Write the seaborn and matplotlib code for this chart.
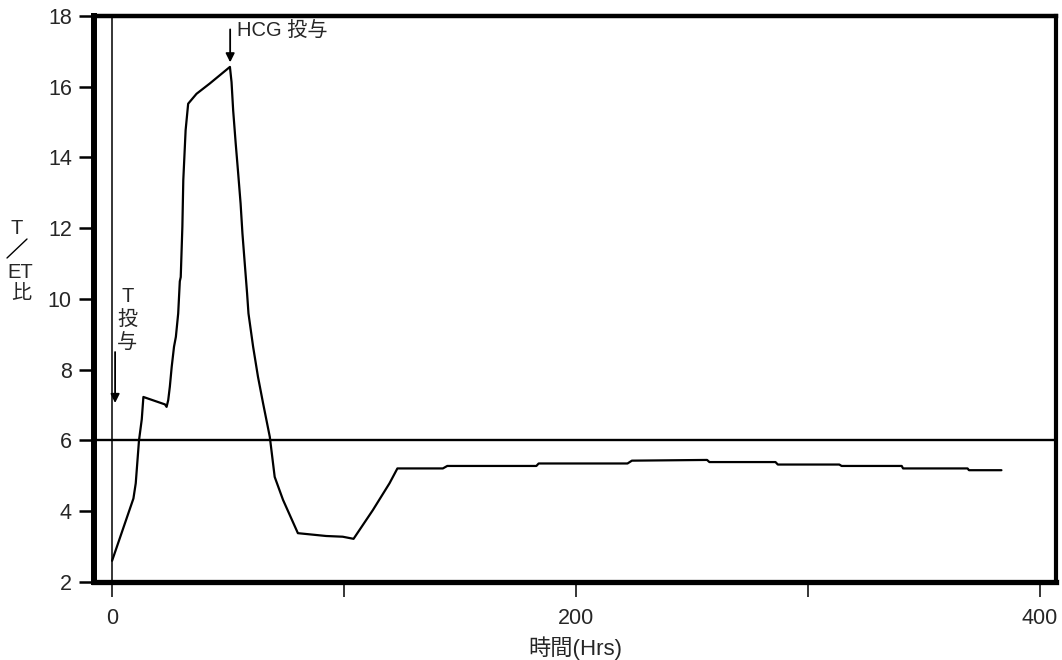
import matplotlib
matplotlib.use("Agg")
import matplotlib.pyplot as plt
from matplotlib.lines import Line2D
import seaborn as sns

# Time course of the T/ET ratio (hours after T administration)
hours = [0, 9.2, 10.2, 11.6, 12.8, 13.5, 22.8, 23.5, 24.2, 24.9, 25.7, 26.7,
         27.5, 28.5, 29.2, 29.6, 30.3, 30.7, 31.7, 32.8, 36.4, 42.1, 50.8,
         51.5, 52.2, 53.3, 54.3, 55.4, 56.2, 57.2, 58.2, 58.8, 60.8, 62.9,
         65.1, 68.0, 70.1, 73.7, 80.1, 92.3, 99.4, 104.1, 112.4, 119.6,
         123.0, 142.6, 144.5, 182.9, 183.9, 222.2, 224.1, 256.5, 257.5,
         286.0, 287.0, 313.5, 314.5, 340.4, 341.0, 368.8, 369.4, 383.4]
ratio = [2.6, 4.36, 4.79, 6.0, 6.6, 7.23, 7.02, 6.95, 7.14, 7.52, 8.08, 8.65,
         8.93, 9.59, 10.5, 10.62, 12.04, 13.36, 14.77, 15.52, 15.8, 16.09,
         16.56, 16.13, 15.33, 14.39, 13.6, 12.7, 11.85, 11.0, 10.16, 9.59,
         8.65, 7.8, 7.05, 6.1, 4.97, 4.32, 3.38, 3.3, 3.28, 3.22, 4.03, 4.79,
         5.21, 5.21, 5.28, 5.28, 5.35, 5.35, 5.43, 5.45, 5.39, 5.39, 5.32,
         5.32, 5.28, 5.28, 5.21, 5.21, 5.16, 5.16]

threshold = 6
t_dose_hour = 0
hcg_dose_hour = 50.9

x_major = [0, 200, 400]
x_minor = [100, 300]
y_ticks = [2, 4, 6, 8, 10, 12, 14, 16, 18]

sns.set_style("white")
latin = ["Liberation Sans", "DejaVu Sans"]
cjk = ["Liberation Sans", "Noto Sans CJK JP", "DejaVu Sans"]
plt.rcParams["font.family"] = cjk

fig = plt.figure(figsize=(10.62, 6.6), dpi=100)
ax = fig.add_axes([0.0885, 0.1182, 0.9058, 0.8576])

sns.lineplot(x=hours, y=ratio, ax=ax, color="black", linewidth=1.6,
             estimator=None, sort=False)

ax.axhline(threshold, color="black", linewidth=1.7, zorder=1)
ax.axvline(t_dose_hour, color="black", linewidth=1.1, zorder=1)

ax.set_xlim(-7.8, 406.9)
ax.set_ylim(2, 18)

for side, lw in {"left": 4.3, "bottom": 3.8, "top": 3.2, "right": 3.0}.items():
    ax.spines[side].set_visible(True)
    ax.spines[side].set_color("black")
    ax.spines[side].set_linewidth(lw)

ax.set_xticks(x_major)
ax.set_xticks(x_minor, minor=True)
ax.set_yticks(y_ticks)
ax.tick_params(axis="x", which="both", direction="out", length=11, width=1.1,
               color="black", pad=8, bottom=True)
ax.tick_params(axis="y", direction="out", length=11, width=1.8,
               color="black", pad=5, left=True)
for lab in ax.get_xticklabels() + ax.get_yticklabels():
    lab.set_family(latin)
    lab.set_fontsize(15.5)

ax.set_xlabel("時間(Hrs)", fontsize=16, family=cjk, labelpad=5)

# Dose annotations
ax.annotate("", xy=(hcg_dose_hour, 16.69), xytext=(hcg_dose_hour, 17.62),
            arrowprops=dict(arrowstyle="-|>", color="black", lw=1.3,
                            mutation_scale=13, shrinkA=0, shrinkB=0))
ax.text(53.9, 17.55, "HCG 投与", fontsize=14.5, family=cjk, va="center",
        ha="left")

ax.annotate("", xy=(1.3, 7.06), xytext=(1.3, 8.5),
            arrowprops=dict(arrowstyle="-|>", color="black", lw=1.3,
                            mutation_scale=13, shrinkA=0, shrinkB=0))
ax.text(6.6, 10.35, "T\n投\n与", fontsize=14.5, family=cjk, va="top",
        ha="center", linespacing=1.3)

# Stacked y-axis label: T / ET 比
H = 660.0
W = 1062.0
fig.text(17 / W, 1 - 228 / H, "T", fontsize=14.5, family=cjk,
         ha="center", va="center")
fig.add_artist(Line2D([7 / W, 27 / W], [1 - 258 / H, 1 - 239 / H],
                      color="black", linewidth=1.0,
                      transform=fig.transFigure))
fig.text(20 / W, 1 - 272 / H, "ET", fontsize=14.5, family=cjk,
         ha="center", va="center")
fig.text(21 / W, 1 - 294 / H, "比", fontsize=14.5, family=cjk,
         ha="center", va="center")

fig.savefig("out.png", dpi=100, facecolor="white")
